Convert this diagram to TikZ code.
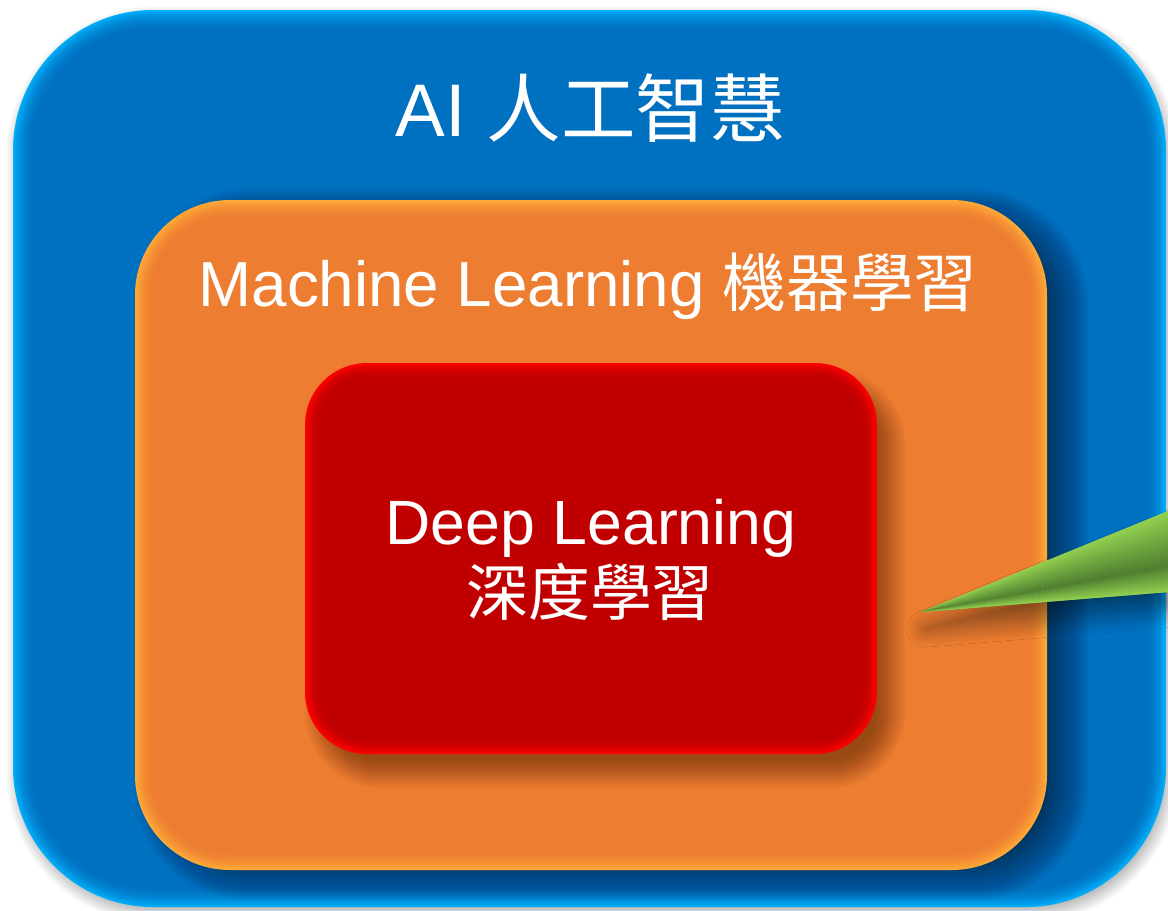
\documentclass[tikz,border=0pt]{standalone}
\usepackage{fontspec}
\setmainfont{Liberation Sans}
\newfontfamily\cjk{Noto Sans CJK TC}
\usetikzlibrary{shadows.blur}
\definecolor{bluemain}{HTML}{0070C0}
\definecolor{bluerim}{HTML}{00AEFA}
\definecolor{orangemain}{HTML}{ED7D31}
\definecolor{orangerim}{HTML}{FFAA38}
\definecolor{redmain}{HTML}{C00000}
\definecolor{redrim}{HTML}{FF0000}
\definecolor{greenlight}{HTML}{92D050}
\definecolor{greendark}{HTML}{507E30}
% x1,y1,x2,y2,radius(px),rim width(px),rim colour,main colour
\newcommand\bevelbox[8]{%
  \foreach \i in {0,...,#6}{%
    \pgfmathtruncatemacro\p{100*(1-(1-\i/#6)*(1-\i/#6))}%
    \pgfmathsetmacro\r{max(#5-\i,1)*0.025}%
    \fill[fill={#8!\p!#7}, rounded corners=\r cm] (#1+\i,#2+\i) rectangle (#3-\i,#4-\i);
  }}
% x1,y1,x2,y2,radius(px),half blur(px),opacity per layer
\newcommand\softshadow[7]{%
  \foreach \i in {-#6,...,#6}{%
    \pgfmathsetmacro\r{max(#5-\i,1)*0.025}%
    \fill[black, opacity=#7, rounded corners=\r cm] (#1+\i,#2+\i) rectangle (#3-\i,#4-\i);
  }}
\tikzset{
  lbl/.style={text=white, inner sep=0pt, anchor=base},
}
\begin{document}
\begin{tikzpicture}[x=0.025cm, y=-0.025cm]
\fill[white] (0,0) rectangle (1168,910);
\useasboundingbox (0,0) rectangle (1168,910);
% AI box
\softshadow{16}{16}{1169}{913}{140}{10}{0.015}
\bevelbox{13}{10}{1166}{907}{140}{22}{bluerim}{bluemain}
% Machine learning box
\softshadow{155}{210}{1067}{880}{95}{22}{0.01}
\bevelbox{135}{200}{1047}{870}{95}{20}{orangerim}{orangemain}
% Deep learning box
\softshadow{319}{383}{891}{774}{62}{15}{0.011}
\bevelbox{305}{363}{877}{754}{62}{16}{redrim}{redmain}
% labels
\node[lbl, font=\fontsize{53}{60}\selectfont] (ai) at (590,136) {AI {\cjk 人工智慧}};
\node[lbl, font=\fontsize{45.3}{50}\selectfont] (ml) at (588,306) {Machine Learning {\cjk 機器學習}};
\node[lbl, font=\fontsize{44.5}{50}\selectfont] (dl) at (591,544) {Deep Learning};
\node[lbl, font=\fontsize{44}{50}\cjk] (dlzh) at (590,615) {深度學習};
% pointer
\coordinate (tip) at (921,612);
\coordinate (ptop) at (1168,511);
\coordinate (pbot) at (1168,592);
\fill[greenlight, blur shadow={shadow xshift=3pt, shadow yshift=-12pt, shadow blur radius=13pt, shadow blur steps=20, shadow opacity=45}] (tip) -- (ptop) -- (pbot) -- cycle;
\foreach \k in {0,...,39}{%
  \pgfmathsetmacro\ya{511+81*\k/40}%
  \pgfmathsetmacro\yb{min(511+81*(\k+1)/40+0.7,592)}%
  \pgfmathsetmacro\ym{511+81*(\k+0.5)/40}%
  \pgfmathsetmacro\t{(\ym<566) ? (566-\ym)/55 : (\ym-566)/26}%
  \pgfmathtruncatemacro\p{100*(1-\t)}%
  \fill[fill={greendark!\p!greenlight}] (tip) -- (1169,\ya) -- (1169,\yb) -- cycle;
}
\end{tikzpicture}
\end{document}
